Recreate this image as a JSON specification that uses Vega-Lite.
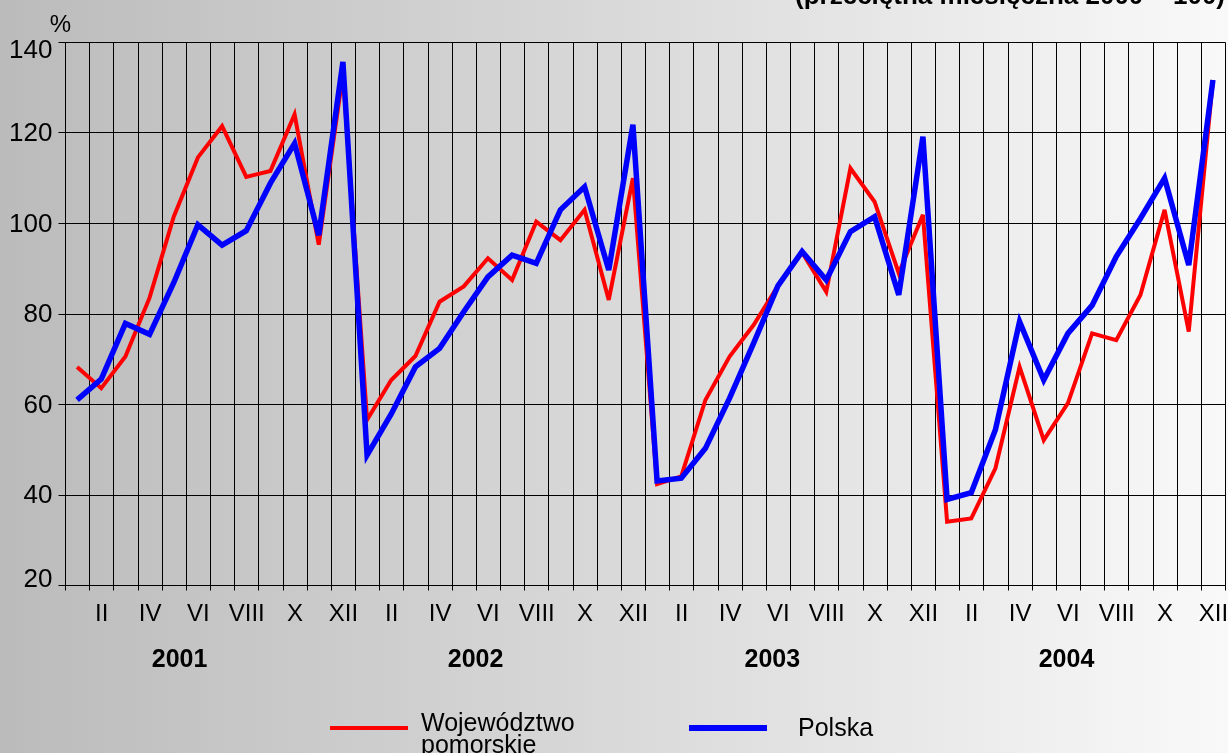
{
  "$schema": "https://vega.github.io/schema/vega-lite/v6.json",
  "width": 1160,
  "height": 543,
  "autosize": "none",
  "padding": {"left": 65, "top": 42, "right": 3, "bottom": 168},
  "background": "#ffffff",
  "config": {
    "font": "Liberation Sans",
    "view": {"stroke": null},
    "axis": {"labelColor": "#000000", "titleColor": "#000000", "domainColor": "#000000", "tickColor": "#000000", "gridColor": "#000000", "gridOpacity": 1, "gridWidth": 1, "domainWidth": 1, "tickWidth": 1}
  },
  "title": {
    "text": "(przeciętna miesięczna 2000 = 100)",
    "anchor": "end",
    "frame": "group",
    "fontSize": 26,
    "fontWeight": "bold",
    "color": "#000000",
    "offset": -30,
    "baseline": "alphabetic"
  },
  "data": {
    "values": [
      {"m": 1, "pom": 68.2, "pl": 60.9},
      {"m": 2, "pom": 63.5, "pl": 65.5},
      {"m": 3, "pom": 70.5, "pl": 77.8},
      {"m": 4, "pom": 83.5, "pl": 75.4},
      {"m": 5, "pom": 101.4, "pl": 86.8},
      {"m": 6, "pom": 114.5, "pl": 99.6},
      {"m": 7, "pom": 121.4, "pl": 95.1},
      {"m": 8, "pom": 110.2, "pl": 98.3},
      {"m": 9, "pom": 111.5, "pl": 108.8},
      {"m": 10, "pom": 124.0, "pl": 117.6},
      {"m": 11, "pom": 95.2, "pl": 97.3},
      {"m": 12, "pom": 133.0, "pl": 135.6},
      {"m": 13, "pom": 56.5, "pl": 48.7},
      {"m": 14, "pom": 65.3, "pl": 57.8},
      {"m": 15, "pom": 70.6, "pl": 68.2},
      {"m": 16, "pom": 82.6, "pl": 72.3},
      {"m": 17, "pom": 86.0, "pl": 80.4},
      {"m": 18, "pom": 92.2, "pl": 88.1},
      {"m": 19, "pom": 87.4, "pl": 92.9},
      {"m": 20, "pom": 100.3, "pl": 91.1},
      {"m": 21, "pom": 96.2, "pl": 102.9},
      {"m": 22, "pom": 102.9, "pl": 108.0},
      {"m": 23, "pom": 83.0, "pl": 89.6},
      {"m": 24, "pom": 109.9, "pl": 121.7},
      {"m": 25, "pom": 42.3, "pl": 43.0},
      {"m": 26, "pom": 44.0, "pl": 43.6},
      {"m": 27, "pom": 60.9, "pl": 50.2},
      {"m": 28, "pom": 70.5, "pl": 61.3},
      {"m": 29, "pom": 77.5, "pl": 73.5},
      {"m": 30, "pom": 86.1, "pl": 86.1},
      {"m": 31, "pom": 93.5, "pl": 93.7},
      {"m": 32, "pom": 84.8, "pl": 87.4},
      {"m": 33, "pom": 112.1, "pl": 98.1},
      {"m": 34, "pom": 104.7, "pl": 101.4},
      {"m": 35, "pom": 88.9, "pl": 84.1},
      {"m": 36, "pom": 101.8, "pl": 119.1},
      {"m": 37, "pom": 34.0, "pl": 38.9},
      {"m": 38, "pom": 34.7, "pl": 40.4},
      {"m": 39, "pom": 45.8, "pl": 54.3},
      {"m": 40, "pom": 68.2, "pl": 78.2},
      {"m": 41, "pom": 52.0, "pl": 65.3},
      {"m": 42, "pom": 60.2, "pl": 75.6},
      {"m": 43, "pom": 75.6, "pl": 81.8},
      {"m": 44, "pom": 74.1, "pl": 92.6},
      {"m": 45, "pom": 84.1, "pl": 101.0},
      {"m": 46, "pom": 102.9, "pl": 109.9},
      {"m": 47, "pom": 76.0, "pl": 90.7},
      {"m": 48, "pom": 131.6, "pl": 131.6}
    ]
  },
  "resolve": {"axis": {"x": "independent", "y": "independent"}, "scale": {"color": "independent"}, "legend": {"color": "independent"}},
  "layer": [
    {
      "data": {"values": [{}]},
      "mark": {
        "type": "rect",
        "blend": "multiply",
        "clip": false,
        "fill": {
          "gradient": "linear",
          "x1": 0, "y1": 0, "x2": 1, "y2": 0,
          "stops": [
            {"offset": 0, "color": "#bbbbbb"},
            {"offset": 0.5, "color": "#d9d9d9"},
            {"offset": 1, "color": "#f9f9f9"}
          ]
        }
      },
      "encoding": {
        "x": {
          "datum": -2.19,
          "type": "quantitative",
          "scale": {"domain": [0.5, 48.5], "nice": false, "zero": false},
          "axis": {
            "orient": "bottom",
            "values": [5.22, 17.47, 29.75, 41.92],
            "labelExpr": "floor((datum.value - 0.5) / 12) + 2001",
            "grid": false,
            "ticks": false,
            "tickSize": 0,
            "domain": false,
            "labelFontSize": 25,
            "labelFontWeight": "bold",
            "labelPadding": 61,
            "labelAlign": "center",
            "labelBaseline": "top",
            "title": null
          }
        },
        "x2": {"datum": 48.62},
        "y": {"datum": 149.3, "type": "quantitative", "scale": {"domain": [20, 140], "nice": false, "zero": false}, "axis": null},
        "y2": {"datum": -17.2}
      }
    },
    {
      "mark": {"type": "line", "strokeWidth": 4, "strokeJoin": "miter", "clip": false},
      "encoding": {
        "x": {
          "field": "m",
          "type": "quantitative",
          "scale": {"domain": [0.5, 48.5], "nice": false, "zero": false},
          "axis": {
            "orient": "bottom",
            "values": [0.5, 1.5, 2.5, 3.5, 4.5, 5.5, 6.5, 7.5, 8.5, 9.5, 10.5, 11.5, 12.5, 13.5, 14.5, 15.5, 16.5, 17.5, 18.5, 19.5, 20.5, 21.5, 22.5, 23.5, 24.5, 25.5, 26.5, 27.5, 28.5, 29.5, 30.5, 31.5, 32.5, 33.5, 34.5, 35.5, 36.5, 37.5, 38.5, 39.5, 40.5, 41.5, 42.5, 43.5, 44.5, 45.5, 46.5, 47.5, 48.5],
            "grid": true,
            "ticks": true,
            "tickSize": 5,
            "labels": false,
            "domain": true,
            "title": null
          }
        },
        "y": {
          "field": "pom",
          "type": "quantitative",
          "scale": {"domain": [20, 140], "nice": false, "zero": false},
          "axis": {
            "orient": "left",
            "values": [20, 40, 60, 80, 100, 120, 140],
            "grid": true,
            "tickSize": 7,
            "labelFontSize": 26,
            "labelPadding": 6,
            "labelFlush": true,
            "labelFlushOffset": 6,
            "title": "%",
            "titleAngle": 0,
            "titleX": -5,
            "titleY": -11,
            "titleAlign": "center",
            "titleBaseline": "alphabetic",
            "titleFontSize": 24,
            "titleFontWeight": "normal"
          }
        },
        "color": {
          "datum": "Województwo pomorskie",
          "type": "nominal",
          "scale": {"domain": ["Województwo pomorskie"], "range": ["#ff0000"]},
          "legend": {
            "orient": "none",
            "legendX": 263,
            "legendY": 645,
            "direction": "horizontal",
            "title": null,
            "padding": 0,
            "symbolType": "stroke",
            "symbolSize": 6084,
            "symbolStrokeWidth": 4,
            "labelFontSize": 25,
            "labelColor": "#000000",
            "labelOffset": 11,
            "labelLimit": 400,
            "labelBaseline": "middle",
            "labelExpr": "['Województwo', 'pomorskie']",
            "encode": {
              "labels": {"update": {"lineHeight": {"value": 22}, "dy": {"value": -5}}}
            }
          }
        }
      }
    },
    {
      "mark": {"type": "line", "strokeWidth": 5.5, "strokeJoin": "miter", "clip": false},
      "encoding": {
        "x": {
          "field": "m",
          "type": "quantitative",
          "scale": {"domain": [0.5, 48.5], "nice": false, "zero": false},
          "axis": {
            "orient": "bottom",
            "values": [2, 4, 6, 8, 10, 12, 14, 16, 18, 20, 22, 24, 26, 28, 30, 32, 34, 36, 38, 40, 42, 44, 46, 48],
            "labelExpr": "['I','II','III','IV','V','VI','VII','VIII','IX','X','XI','XII'][(datum.value - 1) % 12]",
            "grid": false,
            "ticks": false,
            "tickSize": 0,
            "domain": false,
            "labelFontSize": 24,
            "labelPadding": 16,
            "labelAlign": "center",
            "labelBaseline": "top",
            "labelBound": false,
            "labelOverlap": false,
            "title": null
          }
        },
        "y": {"field": "pl", "type": "quantitative", "scale": {"domain": [20, 140], "nice": false, "zero": false}, "axis": null},
        "color": {
          "datum": "Polska",
          "type": "nominal",
          "scale": {"domain": ["Polska"], "range": ["#0000ff"]},
          "legend": {
            "orient": "none",
            "legendX": 621,
            "legendY": 644,
            "direction": "horizontal",
            "title": null,
            "padding": 0,
            "symbolType": "stroke",
            "symbolSize": 6084,
            "symbolStrokeWidth": 6,
            "labelFontSize": 25,
            "labelColor": "#000000",
            "labelOffset": 28,
            "labelLimit": 400,
            "labelBaseline": "middle"
          }
        }
      }
    }
  ]
}
